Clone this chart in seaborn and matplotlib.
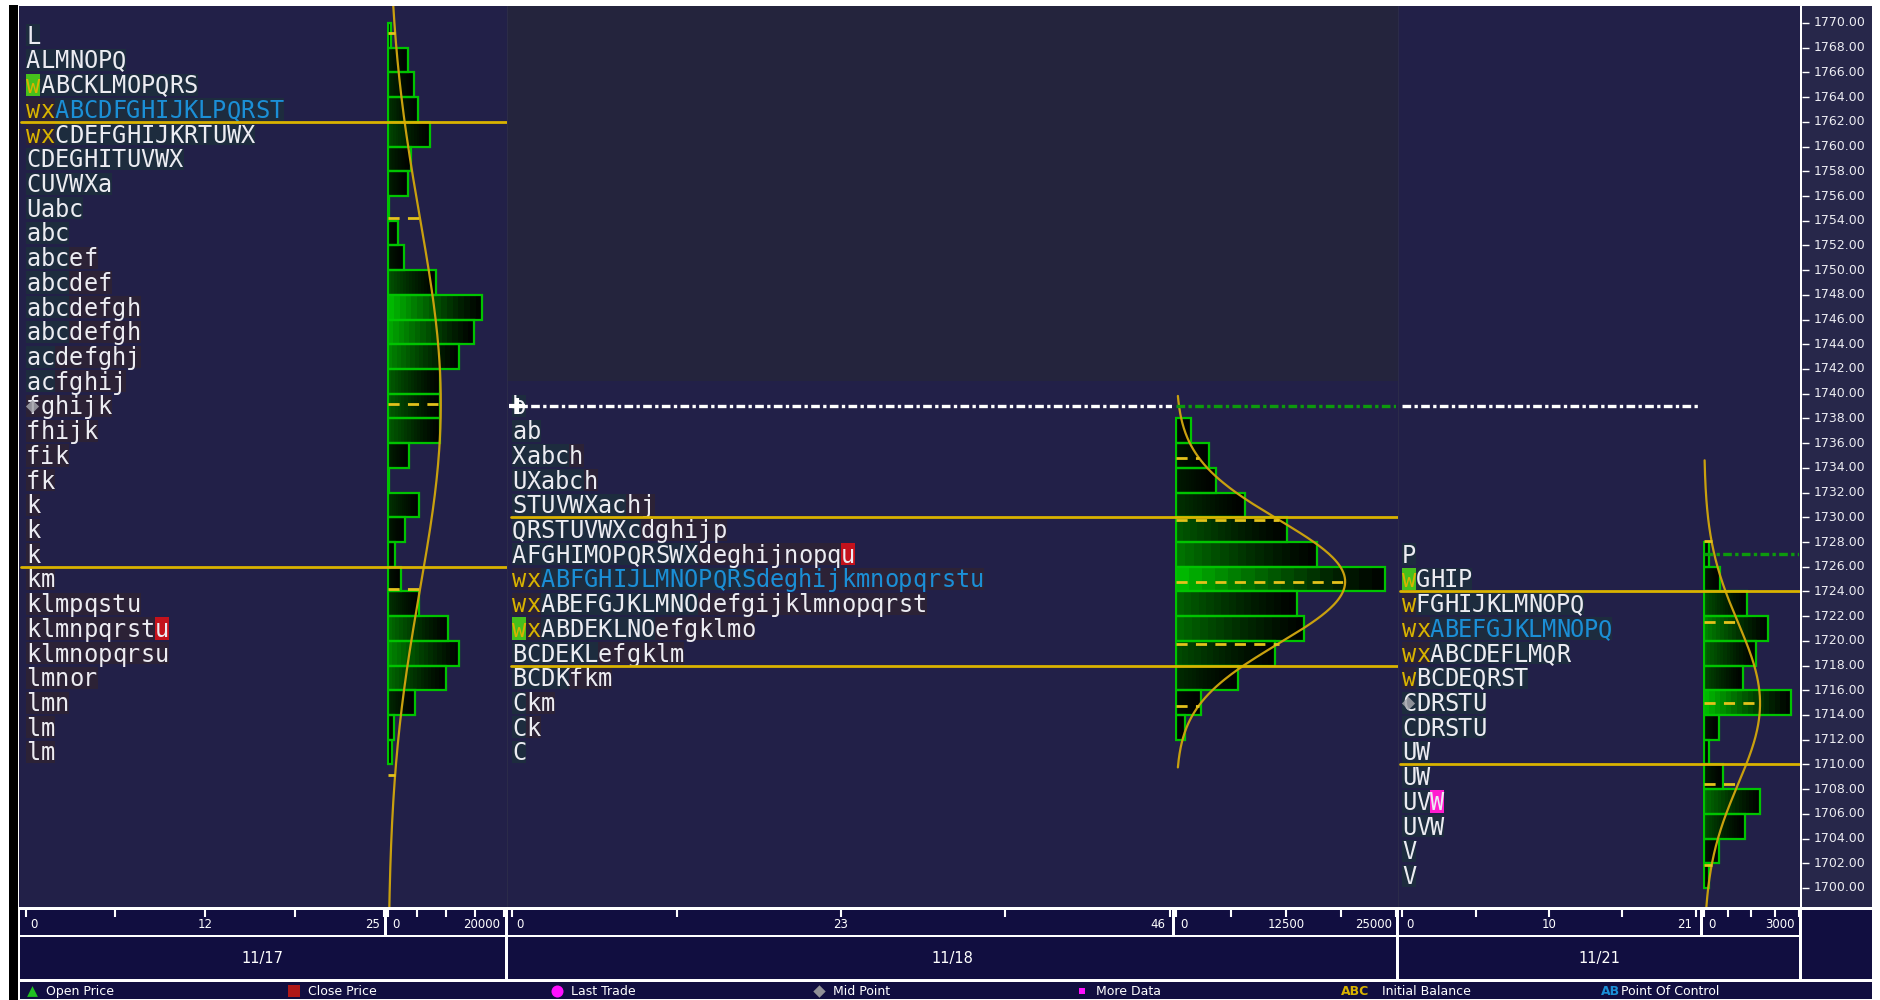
#!/usr/bin/env python3

import numpy as np
import matplotlib
matplotlib.use("Agg")
from matplotlib import pyplot as plt
from matplotlib import transforms
import seaborn as sns

# ------------------------------------------------------------
#     data
# ------------------------------------------------------------

dates = ["11/17", "11/18", "11/21"]

# TPO letters per price row, top row first, one row = 2 points
top_1117 = 1769
tpo_1117 = [
    "L", "ALMNOPQ", "wABCKLMOPQRS", "wxABCDFGHIJKLPQRST", "wxCDEFGHIJKRTUWX",
    "CDEGHITUVWX", "CUVWXa", "Uabc", "abc", "abcef", "abcdef", "abcdefgh",
    "abcdefgh", "acdefghj", "acfghij", "fghijk", "fhijk", "fik", "fk", "k",
    "k", "k", "km", "klmpqstu", "klmnpqrstu", "klmnopqrsu", "lmnor", "lmn",
    "lm", "lm",
]
vol_1117 = [500, 3500, 4400, 5200, 7200, 4000, 3500, 100, 1800, 2700,
            8200, 16200, 14800, 12200, 9000, 9000, 8900, 3700, 100, 5400,
            2900, 1200, 2300, 5400, 10300, 12300, 10000, 4600, 1100, 700]

top_1118 = 1739
tpo_1118 = [
    "b", "ab", "Xabch", "UXabch", "STUVWXachj", "QRSTUVWXcdghijp",
    "AFGHIMOPQRSWXdeghijnopqu", "wxABFGHIJLMNOPQRSdeghijkmnopqrstu",
    "wxABEFGJKLMNOdefgijklmnopqrst", "wxABDEKLNOefgklmo", "BCDEKLefgklm",
    "BCDKfkm", "Ckm", "Ck", "C",
]
vol_1118 = [0, 1700, 3800, 4600, 7800, 12600, 16000, 23800, 13700, 14600,
            11200, 7100, 2800, 1000, 0]

top_1121 = 1727
tpo_1121 = [
    "P", "wGHIP", "wFGHIJKLMNOPQ", "wxABEFGJKLMNOPQ", "wxABCDEFLMQR",
    "wBCDEQRST", "CDRSTU", "CDRSTU", "UW", "UW", "UVW", "UVW", "V", "V",
]
vol_1121 = [150, 510, 1350, 2020, 1630, 1240, 2750, 480, 150, 610,
            1760, 1280, 460, 150]

poc_price = [1763, 1725, 1721]
va_high = [1762, 1730, 1724]
va_low = [1726, 1718, 1710]
open_at = [(1765, 0), (1721, 0), (1725, 0)]
close_at = [(1721, 9), (1727, 23), None]
last_at = [None, None, (1707, 2)]
mid_at = [(1739, 0), None, (1715, 0)]

tpo_max = [25, 46, 21]
tpo_mid_label = ["12", "23", "10"]
vol_max = [20000, 25000, 3000]
vol_mid_label = [None, "12500", None]

prior_line = 1739      # dash-dot line running from 11/18 into 11/21
ext_1121 = 1727        # green dash-dot in the 11/21 volume profile

price_ticks = np.arange(1700, 1771, 2)

legend_labels = ["Open Price", "Close Price", "Last Trade", "Mid Point",
                 "More Data", "Initial Balance", "Point Of Control"]

# ------------------------------------------------------------
#     layout (pixels)
# ------------------------------------------------------------

W, H = 1881, 1000
MAIN_Y0, MAIN_Y1 = 6, 907
PX_PER_PT = (888 - 23) / 70.0
YLIM = (1700 - (MAIN_Y1 - 888) / PX_PER_PT, 1770 + (23 - MAIN_Y0) / PX_PER_PT)

panel_box = [(19, 507), (507, 1398), (1398, 1800)]
tpo_box = [(20, 384), (508, 1172), (1399, 1700)]
tpo_zero = [26, 512, 1402]
tpo_end = [384, 1170, 1696]
vol_box = [(387, 505), (1175, 1396), (1703, 1799)]
vol_zero = [388, 1176, 1704]
vol_end = [504, 1396, 1799]

BG = "#222048"
NAVY = "#110e40"
YELLOW = "#d9b300"
CURVE = "#c9a00e"
BLUE = "#1b8fd6"
GREEN_EDGE = "#00c400"
TXT = "#ececf2"

sns.set_theme(style="dark")
plt.rcParams['font.family'] = ['DejaVu Sans', 'DejaVu Sans Mono']

fig = plt.figure(figsize=(W / 100, H / 100), dpi=100)
fig.patch.set_facecolor("white")


def px_axes(x0, x1, y0, y1):
    return fig.add_axes([x0 / W, 1 - y1 / H, (x1 - x0) / W, (y1 - y0) / H])


def plain(ax, face):
    ax.set_facecolor(face)
    ax.set_xticks([])
    ax.set_yticks([])
    for s in ax.spines.values():
        s.set_visible(False)
    ax.grid(False)


def lim(b0, b1, z, e, m):
    s = m / (e - z)
    return ((b0 - z) * s, (b1 - z) * s)


# left black band
ax_band = px_axes(9, 18, 5, 1000)
plain(ax_band, "black")

# main background
ax_bg = px_axes(19, 1800, MAIN_Y0, MAIN_Y1)
plain(ax_bg, BG)

tpos = [tpo_1117, tpo_1118, tpo_1121]
tops = [top_1117, top_1118, top_1121]
vols = [vol_1117, vol_1118, vol_1121]

tpo_axes, vol_axes = [], []

for k in range(3):
    # under layer: panel shading and separators
    x0, x1 = panel_box[k]
    au = px_axes(x0, x1, MAIN_Y0, MAIN_Y1)
    au.set_axis_off()
    au.set_xlim(0, 1)
    au.set_ylim(*YLIM)
    if k == 1:
        au.axhspan(1741, YLIM[1], color="#24243d", lw=0)
    if k > 0:
        au.axvline(0, color="#2e2e4a", lw=1.2)

    # ---- TPO letters ----
    at = px_axes(tpo_box[k][0], tpo_box[k][1], MAIN_Y0, MAIN_Y1)
    at.set_axis_off()
    at.set_xlim(*lim(tpo_box[k][0], tpo_box[k][1], tpo_zero[k], tpo_end[k], tpo_max[k]))
    at.set_ylim(*YLIM)
    for i, row in enumerate(tpos[k]):
        p = tops[k] - 2 * i
        n = len(row)
        bg = []
        for j, ch in enumerate(row):
            if open_at[k] == (p, j):
                c = "#46c01c"
            elif close_at[k] == (p, j):
                c = "#c4121c"
            elif last_at[k] == (p, j):
                c = "#ff1ccf"
            elif ch.isupper() or ch in "abc":
                c = "#1d2c3e"
            else:
                c = "#2c2236"
            bg.append(c)
        at.barh(np.full(n, p), np.ones(n), left=np.arange(n), height=1.8,
                color=bg, linewidth=0, zorder=1)
        for j, ch in enumerate(row):
            if ch in "wx":
                fc = YELLOW
            elif p == poc_price[k]:
                fc = BLUE
            else:
                fc = TXT
            at.text(j + 0.5, p - 0.68, ch, ha="center", va="baseline", color=fc,
                    fontsize=17, family="DejaVu Sans Mono", zorder=3)
    if mid_at[k] is not None:
        at.scatter([mid_at[k][1] + 0.45], [mid_at[k][0]], marker="D", s=45,
                   color="#a3a3aa", alpha=0.85, linewidths=0, zorder=4)
    tpo_axes.append(at)

    # ---- volume profile ----
    av = px_axes(vol_box[k][0], vol_box[k][1], MAIN_Y0, MAIN_Y1)
    av.set_axis_off()
    av.set_xlim(*lim(vol_box[k][0], vol_box[k][1], vol_zero[k], vol_end[k], vol_max[k]))
    av.set_ylim(*YLIM)

    v = np.asarray(vols[k], float)
    p = tops[k] - 2 * np.arange(len(v))
    keep = v > 0
    g0 = 0.72 * (v / v.max()) ** 1.2
    nseg = 16
    for s in range(nseg):
        f = s / nseg
        cols = np.array([(0.0, g * (1 - f) ** 1.3, 0.0) for g in g0])
        av.barh(p[keep], v[keep] / nseg, left=v[keep] * f, height=2,
                color=cols[keep], linewidth=0, zorder=2)
    av.barh(p[keep], v[keep], height=2, fill=False, edgecolor=GREEN_EDGE,
            linewidth=1.6, zorder=3)

    # normal fit drawn over the profile, mean +- 3 sd
    n_tot = v.sum()
    mu = (v * p).sum() / n_tot
    sd = np.sqrt((v * (p - mu) ** 2).sum() / n_tot)
    amp = 2 * n_tot / (sd * np.sqrt(2 * np.pi))
    yy = np.linspace(mu - 3 * sd, mu + 3 * sd, 300)
    xx = amp * np.exp(-0.5 * ((yy - mu) / sd) ** 2)
    sns.lineplot(x=xx, y=yy, sort=False, estimator=None, color=CURVE,
                 linewidth=1.6, ax=av, zorder=5)
    for m in [-2, -1, 0, 1, 2]:
        yv = mu + m * sd
        av.plot([0, amp * np.exp(-0.5 * m * m)], [yv, yv], color="#e3c21c",
                lw=2, dashes=(4, 3), zorder=5)
    vol_axes.append(av)

# overlay layer: value area lines
for k in range(3):
    x0, x1 = panel_box[k]
    ao = px_axes(x0, x1, MAIN_Y0, MAIN_Y1)
    ao.set_axis_off()
    ao.set_xlim(0, 1)
    ao.set_ylim(*YLIM)
    for va in (va_high[k], va_low[k]):
        ao.axhline(va, xmin=0.005, xmax=1, color=YELLOW, lw=2)

# dash-dot reference lines
dd = dict(lw=2.4, dashes=(2.6, 1, 1, 1), zorder=6)
tpo_axes[1].plot([0, tpo_max[1] + 0.3], [prior_line] * 2, color="white", **dd)
tpo_axes[1].plot([0.35], [prior_line], marker="+", ms=12, mew=3, color="white", zorder=7)
vol_axes[1].plot([0, vol_max[1]], [prior_line] * 2, color="#0d9a0d", **dd)
tpo_axes[2].plot([0, tpo_max[2] + 0.3], [prior_line] * 2, color="white", **dd)
vol_axes[2].plot([0, vol_max[2]], [ext_1121] * 2, color="#0d9a0d", **dd)

# ------------------------------------------------------------
#     price axis
# ------------------------------------------------------------

axp = px_axes(1802, 1872, MAIN_Y0, MAIN_Y1)
plain(axp, "#27274a")
axp.set_xlim(0, 1)
axp.set_ylim(*YLIM)
axp.set_yticks(price_ticks)
axp.tick_params(axis="y", left=True, direction="in", length=5, width=1,
                color="white", labelleft=False)
tr = transforms.blended_transform_factory(axp.transAxes, axp.transData)
for pt in price_ticks:
    axp.text(0.17, pt, f"{pt:.2f}", transform=tr, ha="left", va="center",
             color=TXT, fontsize=9, clip_on=True)

# ------------------------------------------------------------
#     count row, date row, legend row
# ------------------------------------------------------------

for k in range(3):
    specs = [
        (tpo_box[k], tpo_zero[k], tpo_end[k], tpo_max[k],
         [(0, "0", "left"), (tpo_max[k] / 2, tpo_mid_label[k], "center"),
          (tpo_max[k], str(tpo_max[k]), "right")]),
        (vol_box[k], vol_zero[k], vol_end[k], vol_max[k],
         [(0, "0", "left"), (vol_max[k] / 2, vol_mid_label[k], "center"),
          (vol_max[k], str(vol_max[k]), "right")]),
    ]
    for (b0, b1), z, e, m, labs in specs:
        ac = px_axes(b0, b1, 910, 935)
        plain(ac, NAVY)
        ac.set_xlim(*lim(b0, b1, z, e, m))
        ac.set_ylim(0, 1)
        ac.set_xticks(np.linspace(0, m, 5))
        ac.tick_params(axis="x", top=True, bottom=False, labelbottom=False,
                       labeltop=False, direction="in", length=5, width=1.5,
                       color="white")
        for val, txt, ha in labs:
            if txt is None:
                continue
            dx = {"left": 3, "center": 0, "right": -3}[ha] / 72.0
            off = transforms.offset_copy(ac.transData, fig=fig, x=dx, y=0, units="inches")
            ac.text(val, 0.42, txt, transform=off, ha=ha, va="center",
                    color="white", fontsize=8.5)

    ad = px_axes(tpo_box[k][0], vol_box[k][1], 937, 979)
    plain(ad, NAVY)
    ad.text(0.5, 0.5, dates[k], transform=ad.transAxes, ha="center",
            va="center", color="white", fontsize=10.5)

ar = px_axes(1802, 1872, 910, 979)
plain(ar, NAVY)

al = px_axes(20, 1872, 982, 999)
plain(al, NAVY)
al.set_xlim(20, 1872)
al.set_ylim(0, 1)
leg_x = 32 + 262.5 * np.arange(len(legend_labels))
leg_marks = [("^", "#20c020", 60), ("s", "#b01818", 70), ("o", "#ff10ff", 75),
             ("D", "#909096", 40), ("s", "#ff10ff", 14)]
for i, (mk, col, sz) in enumerate(leg_marks):
    al.scatter([leg_x[i]], [0.45], marker=mk, s=sz, color=col, linewidths=0, clip_on=False)
    al.text(leg_x[i] + 14, 0.45, legend_labels[i], ha="left", va="center",
            color="white", fontsize=9)
al.text(leg_x[5] - 4, 0.45, "ABC", ha="left", va="center", color=YELLOW,
        fontsize=9, weight="bold")
al.text(leg_x[5] + 38, 0.45, legend_labels[5], ha="left", va="center",
        color="white", fontsize=9)
al.text(leg_x[6] - 6, 0.45, "AB", ha="left", va="center", color=BLUE,
        fontsize=9, weight="bold")
al.text(leg_x[6] + 14, 0.45, legend_labels[6], ha="left", va="center",
        color="white", fontsize=9)

fig.savefig("out.png", dpi=100, facecolor=fig.get_facecolor())
